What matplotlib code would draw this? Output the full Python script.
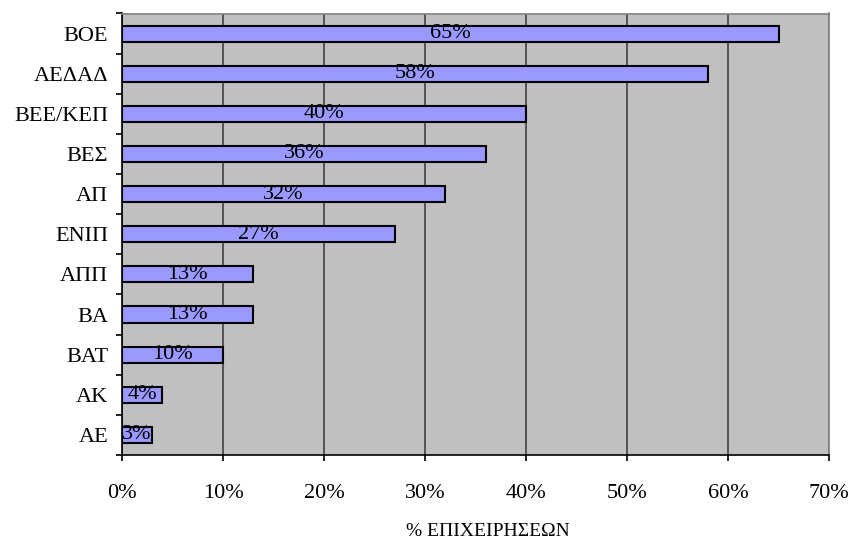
import matplotlib.pyplot as plt
from matplotlib.ticker import FixedLocator, PercentFormatter

plt.rcParams['font.family'] = ['Liberation Serif', 'DejaVu Serif']

categorias = ['ΒΟΕ', 'ΑΕΔΑΔ', 'ΒΕΕ/ΚΕΠ', 'ΒΕΣ', 'ΑΠ', 'ΕΝΙΠ', 'ΑΠΠ', 'ΒΑ', 'ΒΑΤ', 'ΑΚ', 'ΑΕ']
valores = [65, 58, 40, 36, 32, 27, 13, 13, 10, 4, 3]

fig = plt.figure(figsize=(8.56, 5.44), dpi=100)
ax = fig.add_axes([122 / 856, 1 - 455 / 544, (829 - 122) / 856, (455 - 13.5) / 544])
ax.set_facecolor('#C0C0C0')

pos = list(range(len(categorias)))[::-1]
barras = ax.barh(pos, valores, height=0.4, color='#9999FF',
                 edgecolor='black', linewidth=1.5, zorder=3)

# etiquetas en el centro de cada barra
for p, v in zip(pos, valores):
    ax.text(v / 2, p, f'{v}%', ha='center', va='center', fontsize=16, zorder=4)

ax.set_xlim(0, 70)
ax.set_ylim(-0.5, len(categorias) - 0.5)
ax.set_xticks(range(0, 71, 10))
ax.xaxis.set_major_formatter(PercentFormatter(decimals=0))
ax.grid(axis='x', color='#404040', linewidth=1.2, zorder=1)

ax.set_yticks(pos)
ax.set_yticklabels(categorias)
ax.yaxis.set_minor_locator(FixedLocator([p - 0.5 for p in range(len(categorias) + 1)]))
ax.tick_params(axis='y', which='major', length=0, pad=10, labelsize=16)
ax.tick_params(axis='y', which='minor', length=4, width=1.2, direction='out')
ax.tick_params(axis='x', length=4, width=1.2, direction='out', pad=17, labelsize=16)

for lado in ['top', 'right']:
    ax.spines[lado].set_color('#808080')
    ax.spines[lado].set_linewidth(1.2)
for lado in ['left', 'bottom']:
    ax.spines[lado].set_color('black')
    ax.spines[lado].set_linewidth(1.2)

fig.text(488 / 856, 1 - 531 / 544, '% ΕΠΙΧΕΙΡΗΣΕΩΝ', fontsize=14,
         ha='center', va='center')

plt.savefig('out.png', dpi=100)
